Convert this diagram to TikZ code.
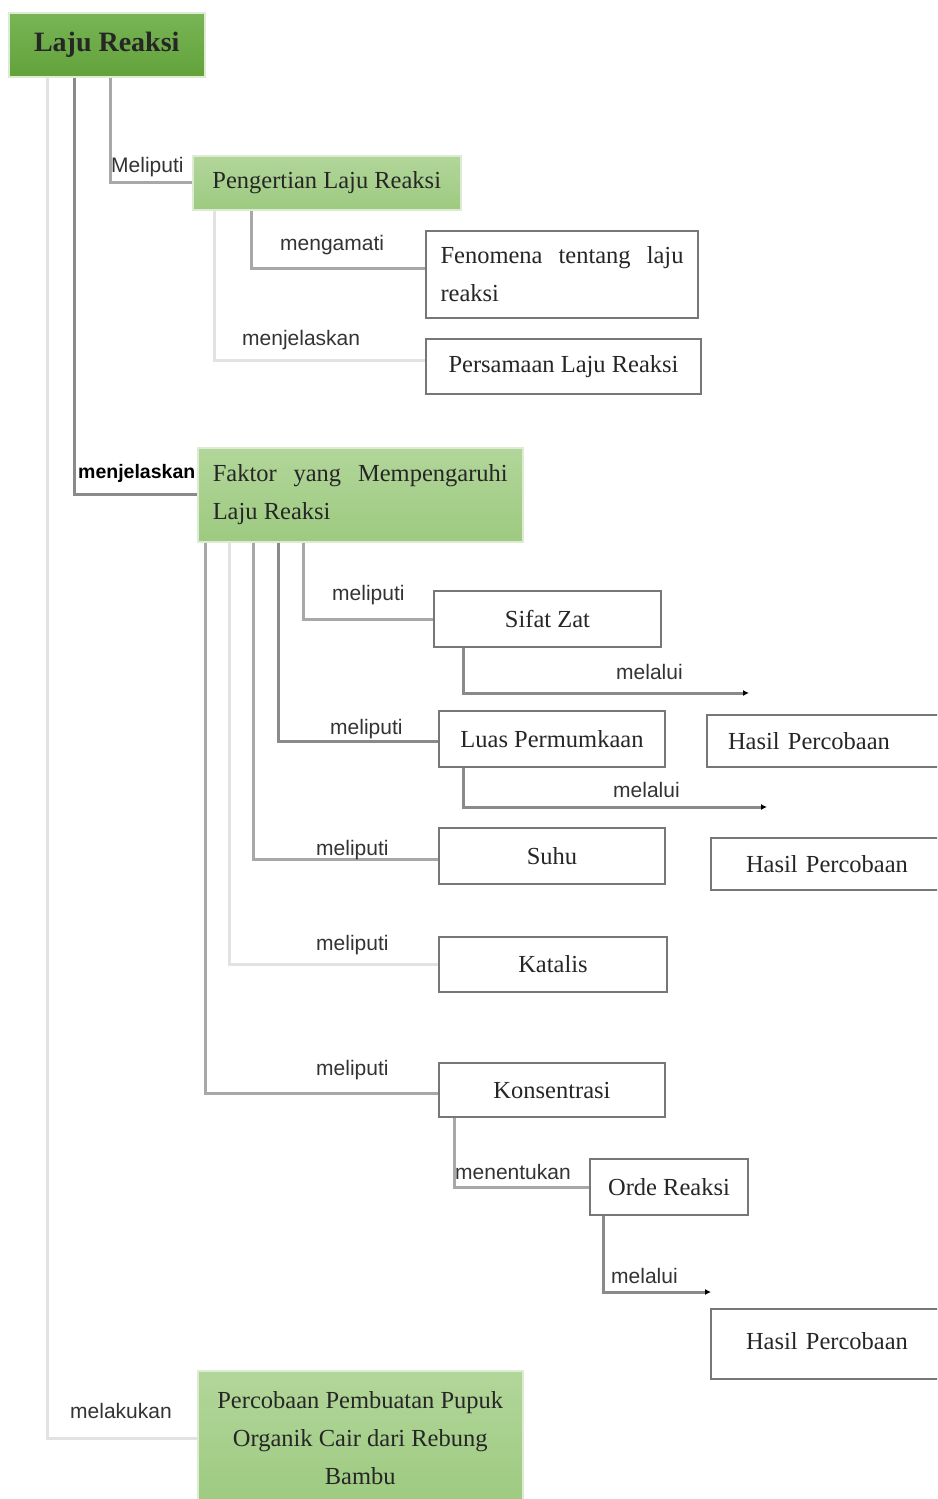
\documentclass[tikz,border=0pt]{standalone}
\usepackage{fontspec}
\setmainfont{Liberation Serif}
\setsansfont{Liberation Sans}
\usetikzlibrary{arrows.meta,positioning}
\definecolor{gdarktop}{HTML}{78B556}
\definecolor{gdarkbot}{HTML}{62A23A}
\definecolor{glighttop}{HTML}{B2D69A}
\definecolor{glightbot}{HTML}{9DCA80}
\definecolor{gborder}{HTML}{DCEBD2}
\definecolor{boxline}{HTML}{777777}
\definecolor{txt}{HTML}{262626}
\definecolor{cdark}{HTML}{8A8A8A}
\definecolor{cmid}{HTML}{A8A8A8}
\definecolor{clight}{HTML}{E2E2E2}
\tikzset{
  x=1pt, y=-1pt,
  boxtext/.style={font=\fontsize{24.5}{38}\selectfont, text=txt},
  whitebox/.style={boxtext, draw=boxline, line width=2pt, fill=white, anchor=north west, inner sep=0pt},
  greenbox/.style={boxtext, draw=gborder, line width=1.5pt, top color=glighttop, bottom color=glightbot, anchor=north west, inner sep=0pt},
  topbox/.style={draw=gborder, line width=1.5pt, top color=gdarktop, bottom color=gdarkbot, anchor=north west, inner sep=0pt, font=\fontsize{28}{34}\selectfont\bfseries, text=black!85},
  lab/.style={font=\sffamily\fontsize{21}{24}\selectfont, text=black!80, anchor=base west, inner sep=0pt},
  conn/.style={draw=cdark, line width=3pt},
  connlight/.style={draw=clight, line width=3pt},
  connmid/.style={draw=cmid, line width=3pt},
  arr/.style={conn, -{Latex[length=6pt,width=6pt,color=black]}},
}
\begin{document}
\begin{tikzpicture}
\useasboundingbox (0,0) rectangle (937,1499);
\clip (0,0) rectangle (937,1499);

% column coordinates
\coordinate (x47) at (47,0);
\coordinate (x74) at (74,0);
\coordinate (x110) at (110,0);
\coordinate (x214) at (214,0);
\coordinate (x251) at (251,0);
\coordinate (x205) at (205,0);
\coordinate (x229) at (229,0);
\coordinate (x253) at (253,0);
\coordinate (x278) at (278,0);
\coordinate (x303) at (303,0);
\coordinate (x463) at (463,0);
\coordinate (x454) at (454,0);
\coordinate (x603) at (603,0);
\coordinate (a1) at (749,693);
\coordinate (a2) at (767,807);
\coordinate (a3) at (711,1292);

% nodes
\node[topbox, minimum width=196pt, minimum height=64pt] (LR) at (8,12) {Laju Reaksi};
\node[greenbox, minimum width=268pt, minimum height=54pt] (PL) at (192,155) {Pengertian Laju Reaksi};
\node[whitebox, minimum width=272pt, minimum height=87pt, align=left] (FEN) at (425,230)
  {\makebox[243pt][s]{Fenomena tentang laju}\\reaksi};
\node[whitebox, minimum width=275pt, minimum height=55pt] (PER) at (425,338) {Persamaan Laju Reaksi};
\node[greenbox, minimum width=325pt, minimum height=94pt, align=left] (FAK) at (197,447)
  {\makebox[295pt][s]{Faktor yang Mempengaruhi}\\Laju Reaksi};
\node[whitebox, minimum width=227pt, minimum height=56pt] (SZ) at (433,590) {Sifat Zat};
\node[whitebox, minimum width=226pt, minimum height=56pt] (LP) at (438,710) {Luas Permumkaan};
\node[whitebox, text width=212pt, align=left, inner xsep=21pt, minimum height=52pt] (HP1) at (706,714) {Hasil Percobaan};
\node[whitebox, minimum width=226pt, minimum height=56pt] (SU) at (438,827) {Suhu};
\node[whitebox, text width=190pt, align=left, inner xsep=35pt, minimum height=52pt] (HP2) at (710,837) {Hasil Percobaan};
\node[whitebox, minimum width=228pt, minimum height=55pt] (KA) at (438,936) {Katalis};
\node[whitebox, minimum width=226pt, minimum height=54pt] (KO) at (438,1062) {Konsentrasi};
\node[whitebox, minimum width=158pt, minimum height=56pt] (OR) at (589,1158) {Orde Reaksi};
\node[whitebox, text width=190pt, align=left, inner xsep=35pt, minimum height=70pt] (HP3) at (710,1308) {\raisebox{7pt}{Hasil Percobaan}};
\node[greenbox, minimum width=325pt, minimum height=135pt, align=center] (PPO) at (197,1370)
  {Percobaan Pembuatan Pupuk\\Organik Cair dari Rebung\\Bambu};

% connectors from Laju Reaksi
\draw[connlight] (LR.south -| x47) |- (PPO.west);
\draw[conn] (LR.south -| x74) |- (FAK.west);
\draw[connmid] (LR.south -| x110) |- (PL.west);

% from Pengertian
\draw[connlight] (PL.south -| x214) |- ([yshift=6pt]PER.west);
\draw[connmid] (PL.south -| x251) |- ([yshift=6pt]FEN.west);

% from Faktor
\draw[connmid] (FAK.south -| x205) |- ([yshift=-3pt]KO.west);
\draw[connlight] (FAK.south -| x229) |- (KA.west);
\draw[connmid] (FAK.south -| x253) |- ([yshift=-3pt]SU.west);
\draw[conn] (FAK.south -| x278) |- ([yshift=-2pt]LP.west);
\draw[connmid] (FAK.south -| x303) |- (SZ.west);

% melalui arrows
\draw[arr] (SZ.south -| x463) |- (a1);
\draw[arr] (LP.south -| x463) |- (a2);
\draw[connmid] (KO.south -| x454) |- (OR.west);
\draw[arr] (OR.south -| x603) |- (a3);

% labels
\node[lab] (l1) at (111,172) {Meliputi};
\node[lab] (l2) at (280,250) {mengamati};
\node[lab] (l3) at (242,345) {menjelaskan};
\node[lab, font=\sffamily\bfseries\fontsize{19.5}{24}\selectfont, text=black] (l4) at (78,478) {menjelaskan};
\node[lab] (l5) at (332,600) {meliputi};
\node[lab] (l6) at (616,679) {melalui};
\node[lab] (l7) at (330,734) {meliputi};
\node[lab] (l8) at (613,797) {melalui};
\node[lab] (l9) at (316,855) {meliputi};
\node[lab] (l10) at (316,950) {meliputi};
\node[lab] (l11) at (316,1075) {meliputi};
\node[lab] (l12) at (455,1179) {menentukan};
\node[lab] (l13) at (611,1283) {melalui};
\node[lab] (l14) at (70,1418) {melakukan};
\end{tikzpicture}
\end{document}
